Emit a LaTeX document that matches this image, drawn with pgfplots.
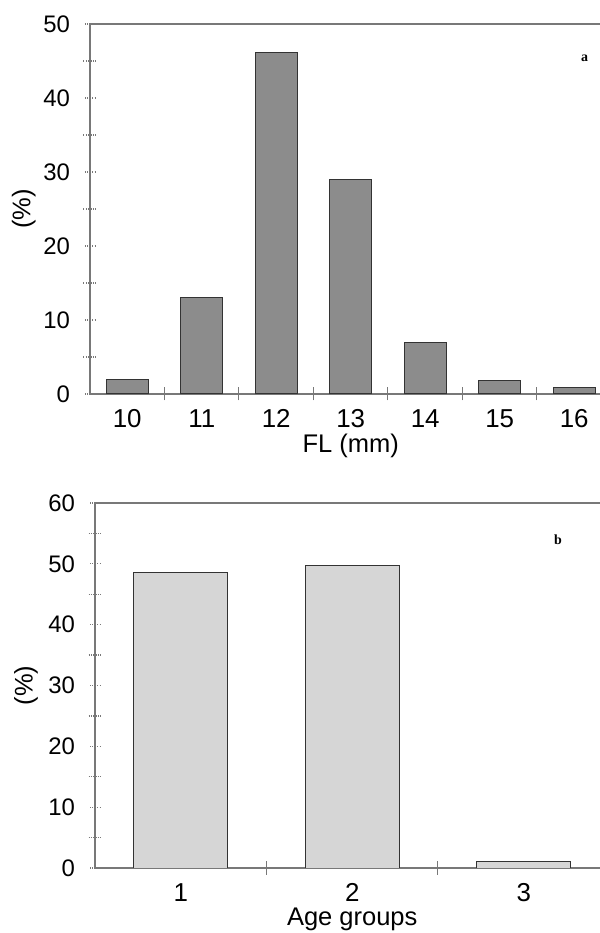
\documentclass[border=0pt]{standalone}
\usepackage{fontspec}
\setmainfont{Liberation Sans}
\newfontfamily\serifb{Liberation Serif}
\usepackage{pgfplots}
\pgfplotsset{compat=1.18}

\definecolor{barA}{RGB}{140,140,140}
\definecolor{barB}{RGB}{214,214,214}
\definecolor{frame}{RGB}{120,120,120}

\pgfplotsset{
  panel/.style={
    scale only axis, anchor=south west,
    ybar, ymin=0,
    axis line style={frame, line width=0.6bp},
    xtick pos=left, ytick pos=left,
    tick align=center,
    major tick length=5bp, minor tick length=6.5bp,
    major x tick style={draw=none},
    minor x tick style={frame, line width=0.5bp},
    y tick style={frame, densely dotted, line width=0.6bp},
    /pgf/number format/assume math mode=true,
    x tick label style={font=\fontsize{13}{15}\selectfont,
      text height=9.6bp, text depth=0pt, yshift=-1bp},
    y tick label style={font=\fontsize{12}{14}\selectfont, xshift=-4bp},
    label style={font=\fontsize{12.8}{15}\selectfont},
  },
}

\begin{document}
\begin{tikzpicture}
\useasboundingbox (0,0) rectangle (300bp,466.5bp);
\clip (0,0) rectangle (300bp,466.5bp);

% panel a: fork length
\begin{axis}[panel,
  at={(45bp,269.5bp)}, width=260.75bp, height=185bp,
  xmin=9.5, xmax=16.5, ymax=50,
  xtick={10,...,16}, minor xtick={10.5,11.5,...,15.5},
  ytick={0,10,...,50}, minor ytick={5,15,...,45},
  bar width=0.56,
  xlabel={FL (mm)}, ylabel={(\%)},
  xlabel style={at={(axis description cs:0.5,0)}, anchor=center, yshift=-26bp},
  ylabel style={at={(axis description cs:-0.127,0.5)}, anchor=center},
]
\addplot[fill=barA, draw=black!80, line width=0.5bp] coordinates {
  (10,2) (11,13) (12,46.2) (13,29) (14,7) (15,1.8) (16,0.9)};
\node[font=\serifb\bfseries\fontsize{7}{8}\selectfont] at (axis cs:16.14,45.3) {a};
\end{axis}

% panel b: age groups
\begin{axis}[panel,
  at={(47.5bp,32.5bp)}, width=257.25bp, height=182.5bp,
  xmin=0.5, xmax=3.5, ymax=60,
  xtick={1,2,3}, minor xtick={1.5,2.5},
  ytick={0,10,...,60}, minor ytick={5,15,...,55},
  bar width=0.55,
  xlabel={Age groups}, ylabel={(\%)},
  xlabel style={at={(axis description cs:0.5,0)}, anchor=center, yshift=-25.5bp},
  ylabel style={at={(axis description cs:-0.134,0.5)}, anchor=center},
]
\addplot[fill=barB, draw=black!80, line width=0.5bp] coordinates {
  (1,48.5) (2,49.7) (3,1.1)};
\node[font=\serifb\bfseries\fontsize{7}{8}\selectfont] at (axis cs:3.2,53.9) {b};
\end{axis}
\end{tikzpicture}
\end{document}
